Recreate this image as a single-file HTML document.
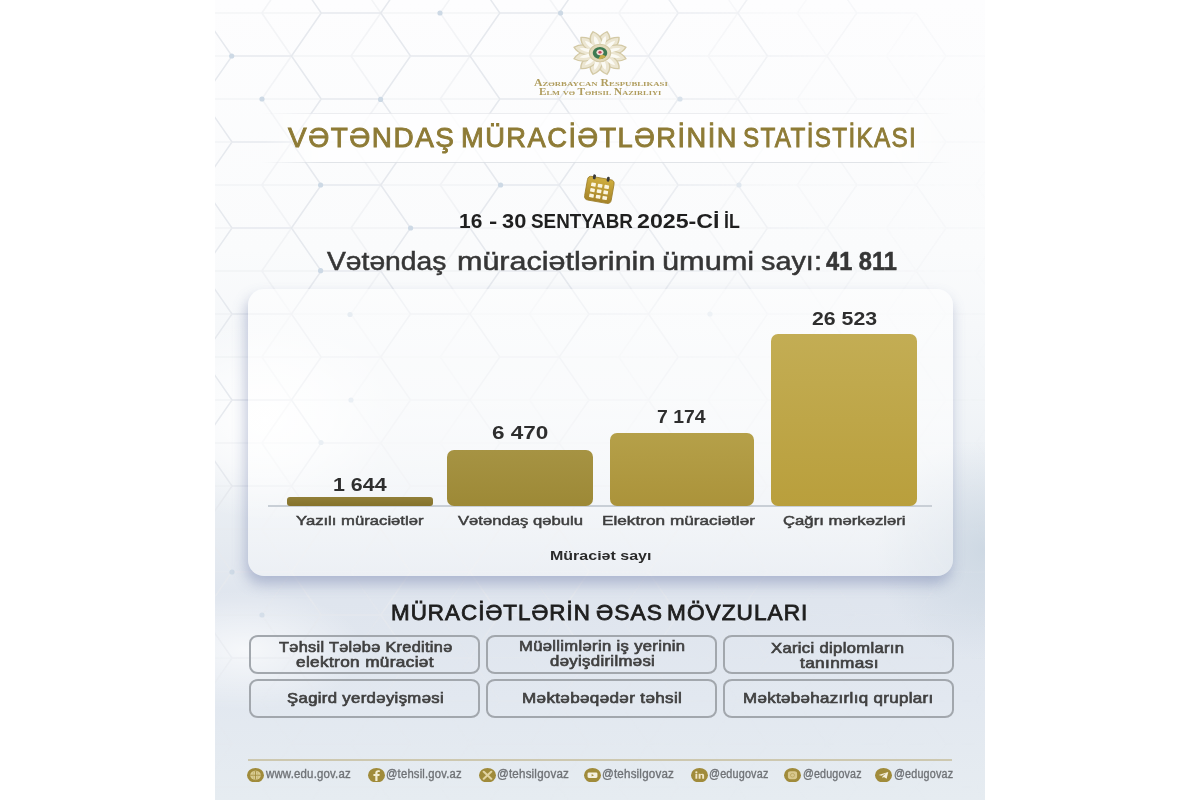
<!DOCTYPE html>
<html><head><meta charset="utf-8">
<style>
html,body{margin:0;padding:0;width:1200px;height:800px;overflow:hidden;background:#fff;}
body{font-family:"Liberation Sans",sans-serif;position:relative;}
.abs{position:absolute;}
#art{position:absolute;left:215px;top:0;width:770px;height:800px;overflow:hidden;
 background:linear-gradient(180deg,#fdfdfe 0px,#fafbfc 250px,#f2f5f8 400px,#e6ebf1 540px,#dfe5ee 600px,#e2e8f0 700px,#e6ecf1 800px);}
.t{position:absolute;white-space:nowrap;line-height:1;}
.box{width:230.6px;height:39px;border:2px solid #a2a7ad;border-radius:9px/8px;box-sizing:border-box;}
.bt{font-size:14.5px;font-weight:normal;color:#404040;-webkit-text-stroke:0.65px #404040;letter-spacing:0.3px;}
.ft{top:768.3px;font-size:12.3px;font-weight:normal;color:#6f7276;-webkit-text-stroke:0.35px #6f7276;letter-spacing:0.2px;}
.ic{top:768.2px;width:16.6px;height:13.3px;border-radius:50%;background:#9a8535;}
</style></head>
<body>
<div id="art">
<div class="abs" style="left:-80px;top:320px;width:260px;height:200px;background:radial-gradient(closest-side,rgba(255,255,255,1),rgba(255,255,255,0.6) 50%,rgba(255,255,255,0));"></div>
<div class="abs" style="left:-90px;top:590px;width:240px;height:120px;background:radial-gradient(closest-side,rgba(255,255,255,0.7),rgba(255,255,255,0));"></div>
<div class="abs" style="left:660px;top:440px;width:220px;height:220px;background:radial-gradient(closest-side,rgba(200,212,224,0.8),rgba(200,212,224,0));"></div>

<svg class="abs" style="left:0;top:0;" width="770" height="800" viewBox="0 0 770 800">
<defs><linearGradient id="hmx" x1="0" y1="0" x2="1" y2="0"><stop offset="0" stop-color="#fff"/><stop offset="0.5" stop-color="#fff"/><stop offset="0.8" stop-color="#fff" stop-opacity="0.3"/><stop offset="1" stop-color="#fff" stop-opacity="0.12"/></linearGradient>
<linearGradient id="hmy" x1="0" y1="0" x2="0" y2="1"><stop offset="0" stop-color="#fff"/><stop offset="0.7" stop-color="#fff"/><stop offset="0.88" stop-color="#fff" stop-opacity="0.3"/><stop offset="1" stop-color="#fff" stop-opacity="0.1"/></linearGradient>
<mask id="hmask"><rect width="770" height="800" fill="url(#hmx)"/></mask><mask id="hmask2"><rect width="770" height="800" fill="url(#hmy)"/></mask></defs>
<g mask="url(#hmask2)"><g mask="url(#hmask)">
<path d="M-102.0 -30.0L-72.2 -73.0M-102.0 -30.0L-72.2 13.0M-102.0 56.0L-72.2 13.0M-102.0 56.0L-72.2 99.0M-102.0 142.0L-72.2 99.0M-102.0 142.0L-72.2 185.0M-102.0 228.0L-72.2 185.0M-102.0 228.0L-72.2 271.0M-102.0 314.0L-72.2 271.0M-102.0 314.0L-72.2 357.0M-102.0 400.0L-72.2 357.0M-102.0 400.0L-72.2 443.0M-102.0 486.0L-72.2 443.0M-102.0 486.0L-72.2 529.0M-102.0 572.0L-72.2 529.0M-102.0 572.0L-72.2 615.0M-102.0 658.0L-72.2 615.0M-102.0 658.0L-72.2 701.0M-102.0 744.0L-72.2 701.0M-102.0 744.0L-72.2 787.0M-102.0 830.0L-72.2 787.0M-102.0 830.0L-72.2 873.0M-72.2 -73.0L-12.8 -73.0M-72.2 13.0L-12.8 13.0M-72.2 99.0L-12.8 99.0M-72.2 185.0L-12.8 185.0M-72.2 271.0L-12.8 271.0M-72.2 357.0L-12.8 357.0M-72.2 443.0L-12.8 443.0M-72.2 529.0L-12.8 529.0M-72.2 615.0L-12.8 615.0M-72.2 701.0L-12.8 701.0M-72.2 787.0L-12.8 787.0M-72.2 873.0L-12.8 873.0M-12.8 -73.0L17.0 -30.0M-12.8 13.0L17.0 -30.0M-12.8 13.0L17.0 56.0M-12.8 99.0L17.0 56.0M-12.8 99.0L17.0 142.0M-12.8 185.0L17.0 142.0M-12.8 185.0L17.0 228.0M-12.8 271.0L17.0 228.0M-12.8 271.0L17.0 314.0M-12.8 357.0L17.0 314.0M-12.8 357.0L17.0 400.0M-12.8 443.0L17.0 400.0M-12.8 443.0L17.0 486.0M-12.8 529.0L17.0 486.0M-12.8 529.0L17.0 572.0M-12.8 615.0L17.0 572.0M-12.8 615.0L17.0 658.0M-12.8 701.0L17.0 658.0M-12.8 701.0L17.0 744.0M-12.8 787.0L17.0 744.0M-12.8 787.0L17.0 830.0M-12.8 873.0L17.0 830.0M17.0 -30.0L76.5 -30.0M17.0 56.0L76.5 56.0M17.0 142.0L76.5 142.0M17.0 228.0L76.5 228.0M17.0 314.0L76.5 314.0M17.0 400.0L76.5 400.0M17.0 486.0L76.5 486.0M17.0 572.0L76.5 572.0M17.0 658.0L76.5 658.0M17.0 744.0L76.5 744.0M17.0 830.0L76.5 830.0M76.5 -30.0L106.2 -73.0M76.5 -30.0L106.2 13.0M76.5 56.0L106.2 13.0M76.5 56.0L106.2 99.0M76.5 142.0L106.2 99.0M76.5 142.0L106.2 185.0M76.5 228.0L106.2 185.0M76.5 228.0L106.2 271.0M76.5 314.0L106.2 271.0M76.5 314.0L106.2 357.0M76.5 400.0L106.2 357.0M76.5 400.0L106.2 443.0M76.5 486.0L106.2 443.0M76.5 486.0L106.2 529.0M76.5 572.0L106.2 529.0M76.5 572.0L106.2 615.0M76.5 658.0L106.2 615.0M76.5 658.0L106.2 701.0M76.5 744.0L106.2 701.0M76.5 744.0L106.2 787.0M76.5 830.0L106.2 787.0M76.5 830.0L106.2 873.0M106.2 -73.0L165.8 -73.0M106.2 13.0L165.8 13.0M106.2 99.0L165.8 99.0M106.2 185.0L165.8 185.0M106.2 271.0L165.8 271.0M106.2 357.0L165.8 357.0M106.2 443.0L165.8 443.0M106.2 529.0L165.8 529.0M106.2 615.0L165.8 615.0M106.2 701.0L165.8 701.0M106.2 787.0L165.8 787.0M106.2 873.0L165.8 873.0M165.8 -73.0L195.5 -30.0M165.8 13.0L195.5 -30.0M165.8 13.0L195.5 56.0M165.8 99.0L195.5 56.0M165.8 99.0L195.5 142.0M165.8 185.0L195.5 142.0M165.8 185.0L195.5 228.0M165.8 271.0L195.5 228.0M165.8 271.0L195.5 314.0M165.8 357.0L195.5 314.0M165.8 357.0L195.5 400.0M165.8 443.0L195.5 400.0M165.8 443.0L195.5 486.0M165.8 529.0L195.5 486.0M165.8 529.0L195.5 572.0M165.8 615.0L195.5 572.0M165.8 615.0L195.5 658.0M165.8 701.0L195.5 658.0M165.8 701.0L195.5 744.0M165.8 787.0L195.5 744.0M165.8 787.0L195.5 830.0M165.8 873.0L195.5 830.0M195.5 -30.0L255.0 -30.0M195.5 56.0L255.0 56.0M195.5 142.0L255.0 142.0M195.5 228.0L255.0 228.0M195.5 314.0L255.0 314.0M195.5 400.0L255.0 400.0M195.5 486.0L255.0 486.0M195.5 572.0L255.0 572.0M195.5 658.0L255.0 658.0M195.5 744.0L255.0 744.0M195.5 830.0L255.0 830.0M255.0 -30.0L284.8 -73.0M255.0 -30.0L284.8 13.0M255.0 56.0L284.8 13.0M255.0 56.0L284.8 99.0M255.0 142.0L284.8 99.0M255.0 142.0L284.8 185.0M255.0 228.0L284.8 185.0M255.0 228.0L284.8 271.0M255.0 314.0L284.8 271.0M255.0 314.0L284.8 357.0M255.0 400.0L284.8 357.0M255.0 400.0L284.8 443.0M255.0 486.0L284.8 443.0M255.0 486.0L284.8 529.0M255.0 572.0L284.8 529.0M255.0 572.0L284.8 615.0M255.0 658.0L284.8 615.0M255.0 658.0L284.8 701.0M255.0 744.0L284.8 701.0M255.0 744.0L284.8 787.0M255.0 830.0L284.8 787.0M255.0 830.0L284.8 873.0M284.8 -73.0L344.2 -73.0M284.8 13.0L344.2 13.0M284.8 99.0L344.2 99.0M284.8 185.0L344.2 185.0M284.8 271.0L344.2 271.0M284.8 357.0L344.2 357.0M284.8 443.0L344.2 443.0M284.8 529.0L344.2 529.0M284.8 615.0L344.2 615.0M284.8 701.0L344.2 701.0M284.8 787.0L344.2 787.0M284.8 873.0L344.2 873.0M344.2 -73.0L374.0 -30.0M344.2 13.0L374.0 -30.0M344.2 13.0L374.0 56.0M344.2 99.0L374.0 56.0M344.2 99.0L374.0 142.0M344.2 185.0L374.0 142.0M344.2 185.0L374.0 228.0M344.2 271.0L374.0 228.0M344.2 271.0L374.0 314.0M344.2 357.0L374.0 314.0M344.2 357.0L374.0 400.0M344.2 443.0L374.0 400.0M344.2 443.0L374.0 486.0M344.2 529.0L374.0 486.0M344.2 529.0L374.0 572.0M344.2 615.0L374.0 572.0M344.2 615.0L374.0 658.0M344.2 701.0L374.0 658.0M344.2 701.0L374.0 744.0M344.2 787.0L374.0 744.0M344.2 787.0L374.0 830.0M344.2 873.0L374.0 830.0M374.0 -30.0L433.5 -30.0M374.0 56.0L433.5 56.0M374.0 142.0L433.5 142.0M374.0 228.0L433.5 228.0M374.0 314.0L433.5 314.0M374.0 400.0L433.5 400.0M374.0 486.0L433.5 486.0M374.0 572.0L433.5 572.0M374.0 658.0L433.5 658.0M374.0 744.0L433.5 744.0M374.0 830.0L433.5 830.0M433.5 -30.0L463.2 -73.0M433.5 -30.0L463.2 13.0M433.5 56.0L463.2 13.0M433.5 56.0L463.2 99.0M433.5 142.0L463.2 99.0M433.5 142.0L463.2 185.0M433.5 228.0L463.2 185.0M433.5 228.0L463.2 271.0M433.5 314.0L463.2 271.0M433.5 314.0L463.2 357.0M433.5 400.0L463.2 357.0M433.5 400.0L463.2 443.0M433.5 486.0L463.2 443.0M433.5 486.0L463.2 529.0M433.5 572.0L463.2 529.0M433.5 572.0L463.2 615.0M433.5 658.0L463.2 615.0M433.5 658.0L463.2 701.0M433.5 744.0L463.2 701.0M433.5 744.0L463.2 787.0M433.5 830.0L463.2 787.0M433.5 830.0L463.2 873.0M463.2 -73.0L522.8 -73.0M463.2 13.0L522.8 13.0M463.2 99.0L522.8 99.0M463.2 185.0L522.8 185.0M463.2 271.0L522.8 271.0M463.2 357.0L522.8 357.0M463.2 443.0L522.8 443.0M463.2 529.0L522.8 529.0M463.2 615.0L522.8 615.0M463.2 701.0L522.8 701.0M463.2 787.0L522.8 787.0M463.2 873.0L522.8 873.0M522.8 -73.0L552.5 -30.0M522.8 13.0L552.5 -30.0M522.8 13.0L552.5 56.0M522.8 99.0L552.5 56.0M522.8 99.0L552.5 142.0M522.8 185.0L552.5 142.0M522.8 185.0L552.5 228.0M522.8 271.0L552.5 228.0M522.8 271.0L552.5 314.0M522.8 357.0L552.5 314.0M522.8 357.0L552.5 400.0M522.8 443.0L552.5 400.0M522.8 443.0L552.5 486.0M522.8 529.0L552.5 486.0M522.8 529.0L552.5 572.0M522.8 615.0L552.5 572.0M522.8 615.0L552.5 658.0M522.8 701.0L552.5 658.0M522.8 701.0L552.5 744.0M522.8 787.0L552.5 744.0M522.8 787.0L552.5 830.0M522.8 873.0L552.5 830.0M552.5 -30.0L612.0 -30.0M552.5 56.0L612.0 56.0M552.5 142.0L612.0 142.0M552.5 228.0L612.0 228.0M552.5 314.0L612.0 314.0M552.5 400.0L612.0 400.0M552.5 486.0L612.0 486.0M552.5 572.0L612.0 572.0M552.5 658.0L612.0 658.0M552.5 744.0L612.0 744.0M552.5 830.0L612.0 830.0M612.0 -30.0L641.8 13.0M612.0 56.0L641.8 13.0M612.0 56.0L641.8 99.0M612.0 142.0L641.8 99.0M612.0 142.0L641.8 185.0M612.0 228.0L641.8 185.0M612.0 228.0L641.8 271.0M612.0 314.0L641.8 271.0M612.0 314.0L641.8 357.0M612.0 400.0L641.8 357.0M612.0 400.0L641.8 443.0M612.0 486.0L641.8 443.0M612.0 486.0L641.8 529.0M612.0 572.0L641.8 529.0M612.0 572.0L641.8 615.0M612.0 658.0L641.8 615.0M612.0 658.0L641.8 701.0M612.0 744.0L641.8 701.0M612.0 744.0L641.8 787.0M612.0 830.0L641.8 787.0M612.0 830.0L641.8 873.0M641.8 13.0L701.2 13.0M641.8 99.0L701.2 99.0M641.8 185.0L701.2 185.0M641.8 271.0L701.2 271.0M641.8 357.0L701.2 357.0M641.8 443.0L701.2 443.0M641.8 529.0L701.2 529.0M641.8 615.0L701.2 615.0M641.8 701.0L701.2 701.0M641.8 787.0L701.2 787.0M641.8 873.0L701.2 873.0M701.2 13.0L731.0 56.0M701.2 99.0L731.0 56.0M701.2 99.0L731.0 142.0M701.2 185.0L731.0 142.0M701.2 185.0L731.0 228.0M701.2 271.0L731.0 228.0M701.2 271.0L731.0 314.0M701.2 357.0L731.0 314.0M701.2 357.0L731.0 400.0M701.2 443.0L731.0 400.0M701.2 443.0L731.0 486.0M701.2 529.0L731.0 486.0M701.2 529.0L731.0 572.0M701.2 615.0L731.0 572.0M701.2 615.0L731.0 658.0M701.2 701.0L731.0 658.0M701.2 701.0L731.0 744.0M701.2 787.0L731.0 744.0M701.2 787.0L731.0 830.0M701.2 873.0L731.0 830.0M731.0 56.0L790.5 56.0M731.0 142.0L790.5 142.0M731.0 228.0L790.5 228.0M731.0 314.0L790.5 314.0M731.0 400.0L790.5 400.0M731.0 486.0L790.5 486.0M731.0 572.0L790.5 572.0M731.0 658.0L790.5 658.0M731.0 744.0L790.5 744.0M731.0 830.0L790.5 830.0M790.5 56.0L820.2 99.0M790.5 142.0L820.2 99.0M790.5 142.0L820.2 185.0M790.5 228.0L820.2 185.0M790.5 228.0L820.2 271.0M790.5 314.0L820.2 271.0M790.5 314.0L820.2 357.0M790.5 400.0L820.2 357.0M790.5 400.0L820.2 443.0M790.5 486.0L820.2 443.0M790.5 486.0L820.2 529.0M790.5 572.0L820.2 529.0M790.5 572.0L820.2 615.0M790.5 658.0L820.2 615.0M790.5 658.0L820.2 701.0M790.5 744.0L820.2 701.0M790.5 744.0L820.2 787.0M790.5 830.0L820.2 787.0M790.5 830.0L820.2 873.0M820.2 99.0L879.8 99.0M820.2 185.0L879.8 185.0M820.2 271.0L879.8 271.0M820.2 357.0L879.8 357.0M820.2 443.0L879.8 443.0M820.2 529.0L879.8 529.0M820.2 615.0L879.8 615.0M820.2 701.0L879.8 701.0M820.2 787.0L879.8 787.0M820.2 873.0L879.8 873.0M879.8 99.0L909.5 142.0M879.8 185.0L909.5 142.0M879.8 185.0L909.5 228.0M879.8 271.0L909.5 228.0M879.8 271.0L909.5 314.0M879.8 357.0L909.5 314.0M879.8 357.0L909.5 400.0M879.8 443.0L909.5 400.0M879.8 443.0L909.5 486.0M879.8 529.0L909.5 486.0M879.8 529.0L909.5 572.0M879.8 615.0L909.5 572.0M879.8 615.0L909.5 658.0M879.8 701.0L909.5 658.0M879.8 701.0L909.5 744.0M879.8 787.0L909.5 744.0M879.8 787.0L909.5 830.0M879.8 873.0L909.5 830.0" stroke="#e6e9ee" stroke-width="1.5" fill="none"/><path d="M-102.0 -30.0L-42.5 -30.0M-102.0 56.0L-42.5 56.0M-102.0 142.0L-42.5 142.0M-102.0 228.0L-42.5 228.0M-102.0 314.0L-42.5 314.0M-102.0 400.0L-42.5 400.0M-102.0 486.0L-42.5 486.0M-102.0 572.0L-42.5 572.0M-102.0 658.0L-42.5 658.0M-102.0 744.0L-42.5 744.0M-102.0 830.0L-42.5 830.0M-42.5 -30.0L-12.8 -73.0M-42.5 -30.0L-12.8 13.0M-42.5 -30.0L17.0 -30.0M-42.5 56.0L-12.8 13.0M-42.5 56.0L-12.8 99.0M-42.5 56.0L17.0 56.0M-42.5 142.0L-12.8 99.0M-42.5 142.0L-12.8 185.0M-42.5 142.0L17.0 142.0M-42.5 228.0L-12.8 185.0M-42.5 228.0L-12.8 271.0M-42.5 228.0L17.0 228.0M-42.5 314.0L-12.8 271.0M-42.5 314.0L-12.8 357.0M-42.5 314.0L17.0 314.0M-42.5 400.0L-12.8 357.0M-42.5 400.0L-12.8 443.0M-42.5 400.0L17.0 400.0M-42.5 486.0L-12.8 443.0M-42.5 486.0L-12.8 529.0M-42.5 486.0L17.0 486.0M-42.5 572.0L-12.8 529.0M-42.5 572.0L-12.8 615.0M-42.5 572.0L17.0 572.0M-42.5 658.0L-12.8 615.0M-42.5 658.0L-12.8 701.0M-42.5 658.0L17.0 658.0M-42.5 744.0L-12.8 701.0M-42.5 744.0L-12.8 787.0M-42.5 744.0L17.0 744.0M-42.5 830.0L-12.8 787.0M-42.5 830.0L-12.8 873.0M-42.5 830.0L17.0 830.0M-12.8 13.0L46.8 13.0M-12.8 99.0L46.8 99.0M-12.8 185.0L46.8 185.0M-12.8 271.0L46.8 271.0M-12.8 357.0L46.8 357.0M-12.8 443.0L46.8 443.0M-12.8 529.0L46.8 529.0M-12.8 615.0L46.8 615.0M-12.8 701.0L46.8 701.0M-12.8 787.0L46.8 787.0M46.8 13.0L76.5 -30.0M46.8 13.0L76.5 56.0M46.8 13.0L106.2 13.0M46.8 99.0L76.5 56.0M46.8 99.0L76.5 142.0M46.8 99.0L106.2 99.0M46.8 185.0L76.5 142.0M46.8 185.0L76.5 228.0M46.8 185.0L106.2 185.0M46.8 271.0L76.5 228.0M46.8 271.0L76.5 314.0M46.8 271.0L106.2 271.0M46.8 357.0L76.5 314.0M46.8 357.0L76.5 400.0M46.8 357.0L106.2 357.0M46.8 443.0L76.5 400.0M46.8 443.0L76.5 486.0M46.8 443.0L106.2 443.0M46.8 529.0L76.5 486.0M46.8 529.0L76.5 572.0M46.8 529.0L106.2 529.0M46.8 615.0L76.5 572.0M46.8 615.0L76.5 658.0M46.8 615.0L106.2 615.0M46.8 701.0L76.5 658.0M46.8 701.0L76.5 744.0M46.8 701.0L106.2 701.0M46.8 787.0L76.5 744.0M46.8 787.0L76.5 830.0M46.8 787.0L106.2 787.0M76.5 -30.0L136.0 -30.0M76.5 56.0L136.0 56.0M76.5 142.0L136.0 142.0M76.5 228.0L136.0 228.0M76.5 314.0L136.0 314.0M76.5 400.0L136.0 400.0M76.5 486.0L136.0 486.0M76.5 572.0L136.0 572.0M76.5 658.0L136.0 658.0M76.5 744.0L136.0 744.0M76.5 830.0L136.0 830.0M136.0 -30.0L165.8 -73.0M136.0 -30.0L165.8 13.0M136.0 -30.0L195.5 -30.0M136.0 56.0L165.8 13.0M136.0 56.0L165.8 99.0M136.0 56.0L195.5 56.0M136.0 142.0L165.8 99.0M136.0 142.0L165.8 185.0M136.0 142.0L195.5 142.0M136.0 228.0L165.8 185.0M136.0 228.0L165.8 271.0M136.0 228.0L195.5 228.0M136.0 314.0L165.8 271.0M136.0 314.0L165.8 357.0M136.0 314.0L195.5 314.0M136.0 400.0L165.8 357.0M136.0 400.0L165.8 443.0M136.0 400.0L195.5 400.0M136.0 486.0L165.8 443.0M136.0 486.0L165.8 529.0M136.0 486.0L195.5 486.0M136.0 572.0L165.8 529.0M136.0 572.0L165.8 615.0M136.0 572.0L195.5 572.0M136.0 658.0L165.8 615.0M136.0 658.0L165.8 701.0M136.0 658.0L195.5 658.0M136.0 744.0L165.8 701.0M136.0 744.0L165.8 787.0M136.0 744.0L195.5 744.0M136.0 830.0L165.8 787.0M136.0 830.0L165.8 873.0M136.0 830.0L195.5 830.0M165.8 13.0L225.2 13.0M165.8 99.0L225.2 99.0M165.8 185.0L225.2 185.0M165.8 271.0L225.2 271.0M165.8 357.0L225.2 357.0M165.8 443.0L225.2 443.0M165.8 529.0L225.2 529.0M165.8 615.0L225.2 615.0M165.8 701.0L225.2 701.0M165.8 787.0L225.2 787.0M225.2 13.0L255.0 -30.0M225.2 13.0L255.0 56.0M225.2 13.0L284.8 13.0M225.2 99.0L255.0 56.0M225.2 99.0L255.0 142.0M225.2 99.0L284.8 99.0M225.2 185.0L255.0 142.0M225.2 185.0L255.0 228.0M225.2 185.0L284.8 185.0M225.2 271.0L255.0 228.0M225.2 271.0L255.0 314.0M225.2 271.0L284.8 271.0M225.2 357.0L255.0 314.0M225.2 357.0L255.0 400.0M225.2 357.0L284.8 357.0M225.2 443.0L255.0 400.0M225.2 443.0L255.0 486.0M225.2 443.0L284.8 443.0M225.2 529.0L255.0 486.0M225.2 529.0L255.0 572.0M225.2 529.0L284.8 529.0M225.2 615.0L255.0 572.0M225.2 615.0L255.0 658.0M225.2 615.0L284.8 615.0M225.2 701.0L255.0 658.0M225.2 701.0L255.0 744.0M225.2 701.0L284.8 701.0M225.2 787.0L255.0 744.0M225.2 787.0L255.0 830.0M225.2 787.0L284.8 787.0M255.0 -30.0L314.5 -30.0M255.0 56.0L314.5 56.0M255.0 142.0L314.5 142.0M255.0 228.0L314.5 228.0M255.0 314.0L314.5 314.0M255.0 400.0L314.5 400.0M255.0 486.0L314.5 486.0M255.0 572.0L314.5 572.0M255.0 658.0L314.5 658.0M255.0 744.0L314.5 744.0M255.0 830.0L314.5 830.0M314.5 -30.0L344.2 -73.0M314.5 -30.0L344.2 13.0M314.5 -30.0L374.0 -30.0M314.5 56.0L344.2 13.0M314.5 56.0L344.2 99.0M314.5 56.0L374.0 56.0M314.5 142.0L344.2 99.0M314.5 142.0L344.2 185.0M314.5 142.0L374.0 142.0M314.5 228.0L344.2 185.0M314.5 228.0L344.2 271.0M314.5 228.0L374.0 228.0M314.5 314.0L344.2 271.0M314.5 314.0L344.2 357.0M314.5 314.0L374.0 314.0M314.5 400.0L344.2 357.0M314.5 400.0L344.2 443.0M314.5 400.0L374.0 400.0M314.5 486.0L344.2 443.0M314.5 486.0L344.2 529.0M314.5 486.0L374.0 486.0M314.5 572.0L344.2 529.0M314.5 572.0L344.2 615.0M314.5 572.0L374.0 572.0M314.5 658.0L344.2 615.0M314.5 658.0L344.2 701.0M314.5 658.0L374.0 658.0M314.5 744.0L344.2 701.0M314.5 744.0L344.2 787.0M314.5 744.0L374.0 744.0M314.5 830.0L344.2 787.0M314.5 830.0L344.2 873.0M314.5 830.0L374.0 830.0M344.2 13.0L403.8 13.0M344.2 99.0L403.8 99.0M344.2 185.0L403.8 185.0M344.2 271.0L403.8 271.0M344.2 357.0L403.8 357.0M344.2 443.0L403.8 443.0M344.2 529.0L403.8 529.0M344.2 615.0L403.8 615.0M344.2 701.0L403.8 701.0M344.2 787.0L403.8 787.0M403.8 13.0L433.5 -30.0M403.8 13.0L433.5 56.0M403.8 13.0L463.2 13.0M403.8 99.0L433.5 56.0M403.8 99.0L433.5 142.0M403.8 99.0L463.2 99.0M403.8 185.0L433.5 142.0M403.8 185.0L433.5 228.0M403.8 185.0L463.2 185.0M403.8 271.0L433.5 228.0M403.8 271.0L433.5 314.0M403.8 271.0L463.2 271.0M403.8 357.0L433.5 314.0M403.8 357.0L433.5 400.0M403.8 357.0L463.2 357.0M403.8 443.0L433.5 400.0M403.8 443.0L433.5 486.0M403.8 443.0L463.2 443.0M403.8 529.0L433.5 486.0M403.8 529.0L433.5 572.0M403.8 529.0L463.2 529.0M403.8 615.0L433.5 572.0M403.8 615.0L433.5 658.0M403.8 615.0L463.2 615.0M403.8 701.0L433.5 658.0M403.8 701.0L433.5 744.0M403.8 701.0L463.2 701.0M403.8 787.0L433.5 744.0M403.8 787.0L433.5 830.0M403.8 787.0L463.2 787.0M433.5 -30.0L493.0 -30.0M433.5 56.0L493.0 56.0M433.5 142.0L493.0 142.0M433.5 228.0L493.0 228.0M433.5 314.0L493.0 314.0M433.5 400.0L493.0 400.0M433.5 486.0L493.0 486.0M433.5 572.0L493.0 572.0M433.5 658.0L493.0 658.0M433.5 744.0L493.0 744.0M433.5 830.0L493.0 830.0M493.0 -30.0L522.8 -73.0M493.0 -30.0L522.8 13.0M493.0 -30.0L552.5 -30.0M493.0 56.0L522.8 13.0M493.0 56.0L522.8 99.0M493.0 56.0L552.5 56.0M493.0 142.0L522.8 99.0M493.0 142.0L522.8 185.0M493.0 142.0L552.5 142.0M493.0 228.0L522.8 185.0M493.0 228.0L522.8 271.0M493.0 228.0L552.5 228.0M493.0 314.0L522.8 271.0M493.0 314.0L522.8 357.0M493.0 314.0L552.5 314.0M493.0 400.0L522.8 357.0M493.0 400.0L522.8 443.0M493.0 400.0L552.5 400.0M493.0 486.0L522.8 443.0M493.0 486.0L522.8 529.0M493.0 486.0L552.5 486.0M493.0 572.0L522.8 529.0M493.0 572.0L522.8 615.0M493.0 572.0L552.5 572.0M493.0 658.0L522.8 615.0M493.0 658.0L522.8 701.0M493.0 658.0L552.5 658.0M493.0 744.0L522.8 701.0M493.0 744.0L522.8 787.0M493.0 744.0L552.5 744.0M493.0 830.0L522.8 787.0M493.0 830.0L522.8 873.0M493.0 830.0L552.5 830.0M522.8 13.0L582.2 13.0M522.8 99.0L582.2 99.0M522.8 185.0L582.2 185.0M522.8 271.0L582.2 271.0M522.8 357.0L582.2 357.0M522.8 443.0L582.2 443.0M522.8 529.0L582.2 529.0M522.8 615.0L582.2 615.0M522.8 701.0L582.2 701.0M522.8 787.0L582.2 787.0M582.2 13.0L612.0 -30.0M582.2 13.0L612.0 56.0M582.2 13.0L641.8 13.0M582.2 99.0L612.0 56.0M582.2 99.0L612.0 142.0M582.2 99.0L641.8 99.0M582.2 185.0L612.0 142.0M582.2 185.0L612.0 228.0M582.2 185.0L641.8 185.0M582.2 271.0L612.0 228.0M582.2 271.0L612.0 314.0M582.2 271.0L641.8 271.0M582.2 357.0L612.0 314.0M582.2 357.0L612.0 400.0M582.2 357.0L641.8 357.0M582.2 443.0L612.0 400.0M582.2 443.0L612.0 486.0M582.2 443.0L641.8 443.0M582.2 529.0L612.0 486.0M582.2 529.0L612.0 572.0M582.2 529.0L641.8 529.0M582.2 615.0L612.0 572.0M582.2 615.0L612.0 658.0M582.2 615.0L641.8 615.0M582.2 701.0L612.0 658.0M582.2 701.0L612.0 744.0M582.2 701.0L641.8 701.0M582.2 787.0L612.0 744.0M582.2 787.0L612.0 830.0M582.2 787.0L641.8 787.0M612.0 56.0L671.5 56.0M612.0 142.0L671.5 142.0M612.0 228.0L671.5 228.0M612.0 314.0L671.5 314.0M612.0 400.0L671.5 400.0M612.0 486.0L671.5 486.0M612.0 572.0L671.5 572.0M612.0 658.0L671.5 658.0M612.0 744.0L671.5 744.0M612.0 830.0L671.5 830.0M671.5 56.0L701.2 13.0M671.5 56.0L701.2 99.0M671.5 56.0L731.0 56.0M671.5 142.0L701.2 99.0M671.5 142.0L701.2 185.0M671.5 142.0L731.0 142.0M671.5 228.0L701.2 185.0M671.5 228.0L701.2 271.0M671.5 228.0L731.0 228.0M671.5 314.0L701.2 271.0M671.5 314.0L701.2 357.0M671.5 314.0L731.0 314.0M671.5 400.0L701.2 357.0M671.5 400.0L701.2 443.0M671.5 400.0L731.0 400.0M671.5 486.0L701.2 443.0M671.5 486.0L701.2 529.0M671.5 486.0L731.0 486.0M671.5 572.0L701.2 529.0M671.5 572.0L701.2 615.0M671.5 572.0L731.0 572.0M671.5 658.0L701.2 615.0M671.5 658.0L701.2 701.0M671.5 658.0L731.0 658.0M671.5 744.0L701.2 701.0M671.5 744.0L701.2 787.0M671.5 744.0L731.0 744.0M671.5 830.0L701.2 787.0M671.5 830.0L701.2 873.0M671.5 830.0L731.0 830.0M701.2 99.0L760.8 99.0M701.2 185.0L760.8 185.0M701.2 271.0L760.8 271.0M701.2 357.0L760.8 357.0M701.2 443.0L760.8 443.0M701.2 529.0L760.8 529.0M701.2 615.0L760.8 615.0M701.2 701.0L760.8 701.0M701.2 787.0L760.8 787.0M760.8 99.0L790.5 56.0M760.8 99.0L790.5 142.0M760.8 99.0L820.2 99.0M760.8 185.0L790.5 142.0M760.8 185.0L790.5 228.0M760.8 185.0L820.2 185.0M760.8 271.0L790.5 228.0M760.8 271.0L790.5 314.0M760.8 271.0L820.2 271.0M760.8 357.0L790.5 314.0M760.8 357.0L790.5 400.0M760.8 357.0L820.2 357.0M760.8 443.0L790.5 400.0M760.8 443.0L790.5 486.0M760.8 443.0L820.2 443.0M760.8 529.0L790.5 486.0M760.8 529.0L790.5 572.0M760.8 529.0L820.2 529.0M760.8 615.0L790.5 572.0M760.8 615.0L790.5 658.0M760.8 615.0L820.2 615.0M760.8 701.0L790.5 658.0M760.8 701.0L790.5 744.0M760.8 701.0L820.2 701.0M760.8 787.0L790.5 744.0M760.8 787.0L790.5 830.0M760.8 787.0L820.2 787.0M790.5 142.0L850.0 142.0M790.5 228.0L850.0 228.0M790.5 314.0L850.0 314.0M790.5 400.0L850.0 400.0M790.5 486.0L850.0 486.0M790.5 572.0L850.0 572.0M790.5 658.0L850.0 658.0M790.5 744.0L850.0 744.0M790.5 830.0L850.0 830.0M850.0 142.0L879.8 99.0M850.0 142.0L879.8 185.0M850.0 142.0L909.5 142.0M850.0 228.0L879.8 185.0M850.0 228.0L879.8 271.0M850.0 228.0L909.5 228.0M850.0 314.0L879.8 271.0M850.0 314.0L879.8 357.0M850.0 314.0L909.5 314.0M850.0 400.0L879.8 357.0M850.0 400.0L879.8 443.0M850.0 400.0L909.5 400.0M850.0 486.0L879.8 443.0M850.0 486.0L879.8 529.0M850.0 486.0L909.5 486.0M850.0 572.0L879.8 529.0M850.0 572.0L879.8 615.0M850.0 572.0L909.5 572.0M850.0 658.0L879.8 615.0M850.0 658.0L879.8 701.0M850.0 658.0L909.5 658.0M850.0 744.0L879.8 701.0M850.0 744.0L879.8 787.0M850.0 744.0L909.5 744.0M850.0 830.0L879.8 787.0M850.0 830.0L879.8 873.0M850.0 830.0L909.5 830.0" stroke="#e6e9ee" stroke-width="1.5" fill="none" opacity="0.45"/>
<g fill="#cdd9e5"><circle cx="16.7" cy="56.0" r="2.6"/><circle cx="165.6" cy="99.4" r="2.6"/><circle cx="105.6" cy="185.0" r="2.6"/><circle cx="195.6" cy="228.0" r="2.6"/><circle cx="285.6" cy="185.0" r="2.6"/><circle cx="105.6" cy="270.7" r="2.6"/><circle cx="345.6" cy="13.0" r="2.6"/><circle cx="135.0" cy="314.5" r="2.6"/><circle cx="136.0" cy="400.0" r="2.6"/><circle cx="106.0" cy="442.5" r="2.6"/><circle cx="47.0" cy="99.0" r="2.6"/><circle cx="225.0" cy="13.0" r="2.6"/><circle cx="17.0" cy="572.0" r="2.6"/><circle cx="47.0" cy="615.0" r="2.6"/><circle cx="465" cy="99" r="2.6"/><circle cx="524" cy="185" r="2.6"/><circle cx="495" cy="314" r="2.6"/><circle cx="-13.0" cy="400.0" r="2.6"/></g></g>
</g></svg>
</div>

<!-- logo -->
<svg class="abs" style="left:572px;top:29.5px;" width="56" height="46" viewBox="0 0 100 100" preserveAspectRatio="none">
<g fill="#ece6d2" stroke="#d3c9a5" stroke-width="2.6" stroke-linejoin="round"><path d="M50 48 C37 36 36 14 50 2 C64 14 63 36 50 48Z" transform="rotate(15 50 50)"/><path d="M50 48 C37 36 36 14 50 2 C64 14 63 36 50 48Z" transform="rotate(45 50 50)"/><path d="M50 48 C37 36 36 14 50 2 C64 14 63 36 50 48Z" transform="rotate(75 50 50)"/><path d="M50 48 C37 36 36 14 50 2 C64 14 63 36 50 48Z" transform="rotate(105 50 50)"/><path d="M50 48 C37 36 36 14 50 2 C64 14 63 36 50 48Z" transform="rotate(135 50 50)"/><path d="M50 48 C37 36 36 14 50 2 C64 14 63 36 50 48Z" transform="rotate(165 50 50)"/><path d="M50 48 C37 36 36 14 50 2 C64 14 63 36 50 48Z" transform="rotate(195 50 50)"/><path d="M50 48 C37 36 36 14 50 2 C64 14 63 36 50 48Z" transform="rotate(225 50 50)"/><path d="M50 48 C37 36 36 14 50 2 C64 14 63 36 50 48Z" transform="rotate(255 50 50)"/><path d="M50 48 C37 36 36 14 50 2 C64 14 63 36 50 48Z" transform="rotate(285 50 50)"/><path d="M50 48 C37 36 36 14 50 2 C64 14 63 36 50 48Z" transform="rotate(315 50 50)"/><path d="M50 48 C37 36 36 14 50 2 C64 14 63 36 50 48Z" transform="rotate(345 50 50)"/></g>
<g fill="#fbfaf4"><path d="M50 40 C45 32 45 20 50 12 C55 20 55 32 50 40Z" transform="rotate(15 50 50)"/><path d="M50 40 C45 32 45 20 50 12 C55 20 55 32 50 40Z" transform="rotate(45 50 50)"/><path d="M50 40 C45 32 45 20 50 12 C55 20 55 32 50 40Z" transform="rotate(75 50 50)"/><path d="M50 40 C45 32 45 20 50 12 C55 20 55 32 50 40Z" transform="rotate(105 50 50)"/><path d="M50 40 C45 32 45 20 50 12 C55 20 55 32 50 40Z" transform="rotate(135 50 50)"/><path d="M50 40 C45 32 45 20 50 12 C55 20 55 32 50 40Z" transform="rotate(165 50 50)"/><path d="M50 40 C45 32 45 20 50 12 C55 20 55 32 50 40Z" transform="rotate(195 50 50)"/><path d="M50 40 C45 32 45 20 50 12 C55 20 55 32 50 40Z" transform="rotate(225 50 50)"/><path d="M50 40 C45 32 45 20 50 12 C55 20 55 32 50 40Z" transform="rotate(255 50 50)"/><path d="M50 40 C45 32 45 20 50 12 C55 20 55 32 50 40Z" transform="rotate(285 50 50)"/><path d="M50 40 C45 32 45 20 50 12 C55 20 55 32 50 40Z" transform="rotate(315 50 50)"/><path d="M50 40 C45 32 45 20 50 12 C55 20 55 32 50 40Z" transform="rotate(345 50 50)"/></g>
<circle cx="50" cy="50" r="19" fill="#e2d9ba" stroke="#d3c9a5" stroke-width="2"/>
<circle cx="50" cy="50" r="13" fill="#3d7a52"/>
<path d="M61 57 A13 13 0 0 1 47 63 L52 52Z" fill="#c8ae4c"/>
<circle cx="50" cy="48.5" r="6.3" fill="#f2dcd6"/>
<circle cx="50" cy="48.5" r="2.9" fill="#c4475b"/>
</svg>
<div class="t" id="min1" style="left:534.0px;top:79px;font-family:'Liberation Serif',serif;font-weight:bold;font-size:9.4px;font-variant:small-caps;color:#b09d5e;transform-origin:0 0;transform:scaleX(1.2495);">Azərbaycan Respublikası</div>
<div class="t" id="min2" style="left:539.0px;top:87.7px;font-family:'Liberation Serif',serif;font-weight:bold;font-size:9.4px;font-variant:small-caps;color:#b09d5e;transform-origin:0 0;transform:scaleX(1.1961);">Elm və Təhsil Nazirliyi</div>

<!-- calendar -->
<svg class="abs" style="left:581px;top:172px;" width="38" height="34" viewBox="0 0 38 34">
<defs><linearGradient id="calg" x1="0" y1="0" x2="0" y2="1"><stop offset="0" stop-color="#cfae3e"/><stop offset="1" stop-color="#a5832a"/></linearGradient></defs>
<g transform="rotate(10 19 17)">
<rect x="5" y="6" width="27" height="24" rx="4" fill="url(#calg)" stroke="#9c7d28" stroke-width="0.8"/>
<g fill="#fbf5df">
<rect x="9.5" y="12" width="4.6" height="3.6" rx="0.6"/><rect x="16.2" y="12" width="4.6" height="3.6" rx="0.6"/><rect x="22.9" y="12" width="4.6" height="3.6" rx="0.6"/>
<rect x="9.5" y="17.6" width="4.6" height="3.6" rx="0.6"/><rect x="16.2" y="17.6" width="4.6" height="3.6" rx="0.6"/><rect x="22.9" y="17.6" width="4.6" height="3.6" rx="0.6"/>
<rect x="9.5" y="23.2" width="4.6" height="3.6" rx="0.6"/><rect x="16.2" y="23.2" width="4.6" height="3.6" rx="0.6"/><rect x="22.9" y="23.2" width="4.6" height="3.6" rx="0.6"/>
</g>
<rect x="10" y="3.5" width="2.8" height="5" rx="1.4" fill="#3a3a3a"/>
<rect x="24" y="3.5" width="2.8" height="5" rx="1.4" fill="#3a3a3a"/>
</g></svg>
<!-- title band -->
<div class="abs" style="left:262px;top:113px;width:690px;height:48px;background:rgba(255,255,255,0.72);border-top:1px solid rgba(200,205,212,0.35);border-bottom:1.5px solid rgba(190,196,204,0.45);-webkit-mask-image:linear-gradient(90deg,transparent 0,#000 60px,#000 630px,transparent 690px);"></div>
<div class="t" id="tw1" style="left:288.0px;top:123.6px;font-size:27.6px;font-weight:normal;letter-spacing:1.5px;-webkit-text-stroke:0.9px #8e7b36;color:#8e7b36;transform-origin:0 0;transform:scaleX(1.0122);">VƏTƏNDAŞ</div>
<div class="t" id="tw2" style="left:460.9px;top:123.6px;font-size:27.6px;font-weight:normal;letter-spacing:1.5px;-webkit-text-stroke:0.9px #8e7b36;color:#8e7b36;transform-origin:0 0;transform:scaleX(0.9882);">MÜRACİƏTLƏRİNİN</div>
<div class="t" id="tw3" style="left:743.0px;top:123.6px;font-size:27.6px;font-weight:normal;letter-spacing:1.5px;-webkit-text-stroke:0.9px #8e7b36;color:#8e7b36;transform-origin:0 0;transform:scaleX(0.8802);">STATİSTİKASI</div>
<div class="t" id="dw1" style="left:459.4px;top:210.6px;font-size:20px;font-weight:bold;color:#1f1f1f;transform-origin:0 0;transform:scaleX(1.0458);">16</div>
<div class="t" id="dw2" style="left:488.6px;top:210.6px;font-size:20px;font-weight:bold;color:#1f1f1f;transform-origin:0 0;transform:scaleX(1.2413);">-</div>
<div class="t" id="dw3" style="left:502.0px;top:210.6px;font-size:20px;font-weight:bold;color:#1f1f1f;transform-origin:0 0;transform:scaleX(1.0910);">30</div>
<div class="t" id="dw4" style="left:530.6px;top:210.6px;font-size:20px;font-weight:bold;color:#1f1f1f;transform-origin:0 0;transform:scaleX(0.9424);">SENTYABR</div>
<div class="t" id="dw5" style="left:637.0px;top:210.6px;font-size:20px;font-weight:bold;color:#1f1f1f;transform-origin:0 0;transform:scaleX(1.1597);">2025-Cİ</div>
<div class="t" id="dw6" style="left:724.0px;top:210.6px;font-size:20px;font-weight:bold;color:#1f1f1f;transform-origin:0 0;transform:scaleX(0.8888);">İL</div>
<div class="t" id="ow1" style="left:327.0px;top:248.5px;font-size:25px;color:#363636;-webkit-text-stroke:0.5px #363636;transform-origin:0 0;transform:scaleX(1.1298);">Vətəndaş</div>
<div class="t" id="ow2" style="left:457.1px;top:248.5px;font-size:25px;color:#363636;-webkit-text-stroke:0.5px #363636;transform-origin:0 0;transform:scaleX(1.2201);">müraciətlərinin</div>
<div class="t" id="ow3" style="left:662.0px;top:248.5px;font-size:25px;color:#363636;-webkit-text-stroke:0.5px #363636;transform-origin:0 0;transform:scaleX(1.2291);">ümumi</div>
<div class="t" id="ow4" style="left:761.0px;top:248.5px;font-size:25px;color:#363636;-webkit-text-stroke:0.5px #363636;transform-origin:0 0;transform:scaleX(1.1534);">sayı:</div>
<div class="t" id="ow5" style="left:826.0px;top:248.5px;font-size:25px;color:#363636;-webkit-text-stroke:0.5px #363636;transform-origin:0 0;transform:scaleX(0.9458);font-weight:bold;">41 811</div>

<!-- chart card -->
<div class="abs" style="left:248px;top:289px;width:705px;height:287px;border-radius:16px;background:linear-gradient(180deg,rgba(255,255,255,0.5) 0%,rgba(255,255,255,0.6) 50%,rgba(255,255,255,0.35) 100%);box-shadow:-2px 8px 14px rgba(100,115,165,0.42);"></div>
<div class="abs" style="left:268px;top:505px;width:664px;height:2px;background:#c9cfd6;"></div>
<div class="abs" style="left:287px;top:497px;width:146px;height:9px;border-radius:3px;background:linear-gradient(180deg,#917f38,#85722c);"></div>
<div class="abs" style="left:447px;top:450px;width:146px;height:56px;border-radius:7px;background:linear-gradient(180deg,#a69343,#9d8936);"></div>
<div class="abs" style="left:610px;top:433px;width:144px;height:73px;border-radius:7px;background:linear-gradient(180deg,#b5a049,#ab933a);"></div>
<div class="abs" style="left:771px;top:334px;width:146px;height:172px;border-radius:7px;background:linear-gradient(180deg,#c3ad54,#b99f3c);"></div>
<div class="t" id="v1644" style="left:332.5px;top:475.8px;font-size:18.6px;font-weight:bold;color:#2e2e2e;transform-origin:0 0;transform:scaleX(1.1522);">1 644</div>
<div class="t" id="v6470" style="left:491.5px;top:423.5px;font-size:18.6px;font-weight:bold;color:#2e2e2e;transform-origin:0 0;transform:scaleX(1.2116);">6 470</div>
<div class="t" id="v7174" style="left:656.8px;top:407.9px;font-size:18.6px;font-weight:bold;color:#2e2e2e;transform-origin:0 0;transform:scaleX(1.0424);">7 174</div>
<div class="t" id="v26523" style="left:811.5px;top:309.8px;font-size:18.6px;font-weight:bold;color:#2e2e2e;transform-origin:0 0;transform:scaleX(1.1455);">26 523</div>
<div class="t" id="l1" style="-webkit-text-stroke:0.5px #3e3e3e;left:295.8px;top:513.6px;font-size:13.7px;color:#3e3e3e;transform-origin:0 0;transform:scaleX(1.2177);">Yazılı müraciətlər</div>
<div class="t" id="l2" style="-webkit-text-stroke:0.5px #3e3e3e;left:458.4px;top:513.6px;font-size:13.7px;color:#3e3e3e;transform-origin:0 0;transform:scaleX(1.2161);">Vətəndaş qəbulu</div>
<div class="t" id="l3" style="-webkit-text-stroke:0.5px #3e3e3e;left:602.2px;top:513.6px;font-size:13.7px;color:#3e3e3e;transform-origin:0 0;transform:scaleX(1.2568);">Elektron müraciətlər</div>
<div class="t" id="l4" style="-webkit-text-stroke:0.5px #3e3e3e;left:783.4px;top:513.6px;font-size:13.7px;color:#3e3e3e;transform-origin:0 0;transform:scaleX(1.2208);">Çağrı mərkəzləri</div>
<div class="t" id="axis" style="left:549.5px;top:548.9px;font-size:13.1px;font-weight:bold;color:#2a2a2a;transform-origin:0 0;transform:scaleX(1.2222);">Müraciət sayı</div>

<div class="t" id="hw1" style="left:391.0px;top:601.5px;font-size:21.8px;font-weight:normal;letter-spacing:1px;-webkit-text-stroke:0.8px #1e1e1e;color:#1e1e1e;transform-origin:0 0;transform:scaleX(1.0264);">MÜRACİƏTLƏRİN</div>
<div class="t" id="hw2" style="left:596.0px;top:601.5px;font-size:21.8px;font-weight:normal;letter-spacing:1px;-webkit-text-stroke:0.8px #1e1e1e;color:#1e1e1e;transform-origin:0 0;transform:scaleX(1.0492);">ƏSAS</div>
<div class="t" id="hw3" style="left:667.0px;top:601.5px;font-size:21.8px;font-weight:normal;letter-spacing:1px;-webkit-text-stroke:0.8px #1e1e1e;color:#1e1e1e;transform-origin:0 0;transform:scaleX(1.0384);">MÖVZULARI</div>

<!-- topic boxes -->
<div class="abs box" style="left:249.4px;top:634.6px;"></div>
<div class="abs box" style="left:486px;top:634.6px;"></div>
<div class="abs box" style="left:723.1px;top:634.6px;"></div>
<div class="abs box" style="left:249.4px;top:679.2px;"></div>
<div class="abs box" style="left:486px;top:679.2px;"></div>
<div class="abs box" style="left:723.1px;top:679.2px;"></div>
<div class="t bt" id="b1a" style="left:279.2px;top:640.2px;transform-origin:0 0;transform:scaleX(1.1201);">Təhsil Tələbə Kreditinə</div>
<div class="t bt" id="b1b" style="left:296.2px;top:655.2px;transform-origin:0 0;transform:scaleX(1.1857);">elektron müraciət</div>
<div class="t bt" id="b2a" style="left:519.0px;top:639.4px;transform-origin:0 0;transform:scaleX(1.1435);">Müəllimlərin iş yerinin</div>
<div class="t bt" id="b2b" style="left:550.0px;top:654.4px;transform-origin:0 0;transform:scaleX(1.1529);">dəyişdirilməsi</div>
<div class="t bt" id="b3a" style="left:771.2px;top:641.0px;transform-origin:0 0;transform:scaleX(1.1438);">Xarici diplomların</div>
<div class="t bt" id="b3b" style="left:800.0px;top:656.0px;transform-origin:0 0;transform:scaleX(1.1878);">tanınması</div>
<div class="t bt" id="b4" style="left:287.0px;top:691.0px;transform-origin:0 0;transform:scaleX(1.1525);">Şagird yerdəyişməsi</div>
<div class="t bt" id="b5" style="left:521.8px;top:691.0px;transform-origin:0 0;transform:scaleX(1.1757);">Məktəbəqədər təhsil</div>
<div class="t bt" id="b6" style="left:743.2px;top:691.0px;transform-origin:0 0;transform:scaleX(1.1653);">Məktəbəhazırlıq qrupları</div>

<!-- footer -->
<div class="abs" style="left:248px;top:759px;width:704px;height:1.6px;background:#cdc8b0;"></div>
<div class="t ft" id="f1" style="left:266.0px;transform-origin:0 0;transform:scaleX(0.9287);">www.edu.gov.az</div>
<div class="t ft" id="f2" style="left:386.0px;transform-origin:0 0;transform:scaleX(0.9163);">@tehsil.gov.az</div>
<div class="t ft" id="f3" style="left:497.0px;transform-origin:0 0;transform:scaleX(0.9424);">@tehsilgovaz</div>
<div class="t ft" id="f4" style="left:602.0px;transform-origin:0 0;transform:scaleX(0.9424);">@tehsilgovaz</div>
<div class="t ft" id="f5" style="left:709.0px;transform-origin:0 0;transform:scaleX(0.8796);">@edugovaz</div>
<div class="t ft" id="f6" style="left:803.0px;transform-origin:0 0;transform:scaleX(0.8679);">@edugovaz</div>
<div class="t ft" id="f7" style="left:894.0px;transform-origin:0 0;transform:scaleX(0.8757);">@edugovaz</div>
<svg class="abs" style="left:247.2px;top:767.5px;" width="17" height="14.5" viewBox="0 0 20 20" preserveAspectRatio="none"><circle cx="10" cy="10" r="10" fill="#a08b3b"/><circle cx="10" cy="10" r="6.3" fill="#d9cc93"/><path d="M3.7 10H16.3M10 3.7V16.3" stroke="#a08b3b" stroke-width="1.1"/><ellipse cx="10" cy="10" rx="2.8" ry="6.3" fill="none" stroke="#bfae68" stroke-width="0.8"/></svg>
<svg class="abs" style="left:367.5px;top:767.5px;" width="17" height="14.5" viewBox="0 0 20 20" preserveAspectRatio="none"><circle cx="10" cy="10" r="10" fill="#a08b3b"/><path d="M11.2 18V11H13.4L13.8 8.4H11.2V6.9C11.2 6.1 11.5 5.6 12.6 5.6H13.9V3.3C13.6 3.3 12.8 3.2 11.9 3.2C9.9 3.2 8.6 4.4 8.6 6.6V8.4H6.4V11H8.6V18Z" fill="#f2ecd2"/></svg>
<svg class="abs" style="left:479.3px;top:767.5px;" width="17" height="14.5" viewBox="0 0 20 20" preserveAspectRatio="none"><circle cx="10" cy="10" r="10" fill="#a08b3b"/><path d="M5.5 5L14.5 15M14.5 5L5.5 15" stroke="#e2d3a0" stroke-width="2.6" stroke-linecap="round"/></svg>
<svg class="abs" style="left:584.2px;top:767.5px;" width="17" height="14.5" viewBox="0 0 20 20" preserveAspectRatio="none"><circle cx="10" cy="10" r="10" fill="#a08b3b"/><rect x="4.2" y="6.3" width="11.6" height="7.4" rx="1.6" fill="#f4efe0"/><path d="M9 8.4L11.8 10L9 11.6Z" fill="#a08b3b"/></svg>
<svg class="abs" style="left:691.2px;top:767.5px;" width="17" height="14.5" viewBox="0 0 20 20" preserveAspectRatio="none"><circle cx="10" cy="10" r="10" fill="#a08b3b"/><rect x="5.2" y="8" width="2.2" height="6.8" fill="#f1e6c5"/><circle cx="6.3" cy="5.8" r="1.3" fill="#f1e6c5"/><path d="M9 8H11.1V9C11.5 8.3 12.3 7.8 13.3 7.8C15 7.8 15.4 9 15.4 10.5V14.8H13.2V11C13.2 10.2 13 9.7 12.3 9.7C11.5 9.7 11.2 10.3 11.2 11.1V14.8H9Z" fill="#f1e6c5"/></svg>
<svg class="abs" style="left:783.6px;top:767.5px;" width="17" height="14.5" viewBox="0 0 20 20" preserveAspectRatio="none"><circle cx="10" cy="10" r="10" fill="#a08b3b"/><rect x="4.6" y="4.6" width="10.8" height="10.8" rx="3.2" fill="#d8c88e"/><circle cx="10" cy="10" r="2.5" fill="none" stroke="#b9a45c" stroke-width="1"/></svg>
<svg class="abs" style="left:874.6px;top:767.5px;" width="17" height="14.5" viewBox="0 0 20 20" preserveAspectRatio="none"><circle cx="10" cy="10" r="10" fill="#a08b3b"/><path d="M4.2 9.8L15.6 5.4L13.7 14.8L10.4 12.4L8.8 14L8.9 11.3L13.2 7.3L7.6 10.8Z" fill="#f4eedb"/></svg>
</body></html>
